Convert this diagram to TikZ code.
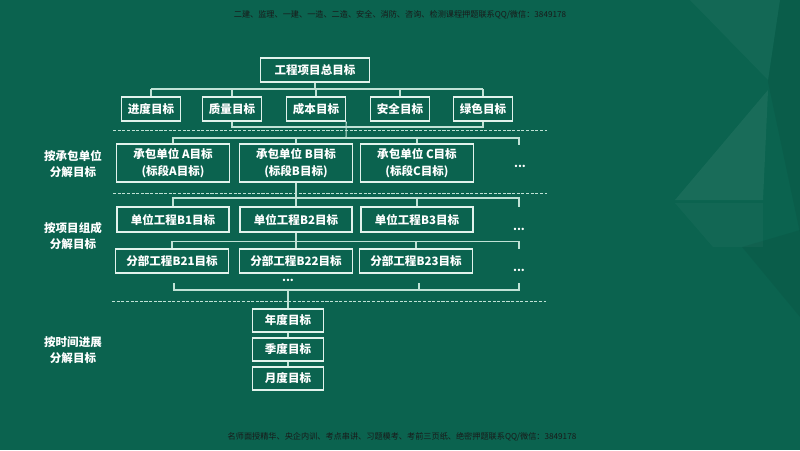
\documentclass[tikz,border=0pt]{standalone}
\usepackage{fontspec}
\setmainfont{Noto Sans CJK SC}
\usetikzlibrary{positioning,calc}
\definecolor{bgGreen}{RGB}{11,99,79}
\definecolor{boxLine}{RGB}{225,243,236}
\definecolor{linkLine}{RGB}{192,226,214}
\tikzset{
	%estils de les caixes i de les linies
	goal/.style = {rectangle, draw=boxLine, line width=0.9pt, text=white,
                           font=\fontsize{8.2}{11.8}\selectfont\bfseries,
                           inner sep=0pt, minimum height=0.6cm,
                           align=center, text centered},
	side/.style = {text=white, font=\fontsize{8.2}{11.4}\selectfont\bfseries,
                           align=center},
	dots/.style = {text=white, font=\fontsize{8}{9}\selectfont\bfseries, inner sep=0pt},
	note/.style = {text=black!90, font=\fontsize{5.8}{7}\selectfont},
	link/.style = {draw=linkLine, line width=0.75pt},
	sep/.style  = {draw=linkLine, line width=0.7pt, dash pattern=on 2.2pt off 1.1pt}
}
\begin{document}
\begin{tikzpicture}[x=0.025cm, y=-0.025cm]
		% fons
		\fill[bgGreen] (0,0) rectangle (800,450);
		\fill[white, opacity=0.035] (690,0) -- (780,0) -- (768,80) -- cycle;
		\fill[white, opacity=0.06] (768,90) -- (675,200) -- (763,200) -- cycle;
		\fill[white, opacity=0.03] (675,203) -- (763,203) -- (763,247) -- (713,247) -- cycle;
		\fill[black, opacity=0.06] (780,0) -- (800,0) -- (800,233) -- (768,82) -- cycle;
		\fill[black, opacity=0.05] (742,247) -- (800,230) -- (800,317) -- cycle;
		\useasboundingbox (0,0) rectangle (800,450);

		\node (hdr) [note] at (400,15) {二建、监理、一建、一造、二造、安全、消防、咨询、检测课程押题联系QQ/微信：3849178};
		\node (ftr) [note] at (402,437) {名师面授精华、央企内训、考点串讲、习题模考、考前三页纸、绝密押题联系QQ/微信：3849178};

		% nivell 1 i 2
		\node (top) [goal, minimum width=2.72cm] at (315,70)  {工程项目总目标};
		\node (jd)  [goal, minimum width=1.48cm] at (151,109) {进度目标};
		\node (zl)  [goal, minimum width=1.48cm] at (232,109) {质量目标};
		\node (cb)  [goal, minimum width=1.48cm] at (316,109) {成本目标};
		\node (aq)  [goal, minimum width=1.48cm] at (400,109) {安全目标};
		\node (ls)  [goal, minimum width=1.48cm] at (483,109) {绿色目标};

		% per unitat contractista
		\node (conA) [goal, minimum width=2.82cm, minimum height=0.95cm] at (173,163) {承包单位 A目标\\(标段A目标)};
		\node (conB) [goal, minimum width=2.82cm, minimum height=0.95cm] at (296,163) {承包单位 B目标\\(标段B目标)};
		\node (conC) [goal, minimum width=2.82cm, minimum height=0.95cm] at (417,163) {承包单位 C目标\\(标段C目标)};
		\node (conD) [dots] at (520,166) {...};

		% per composicio del projecte
		\node (dwB1) [goal, minimum width=2.8cm, minimum height=0.62cm] at (173,219.5) {单位工程B1目标};
		\node (dwB2) [goal, minimum width=2.8cm, minimum height=0.62cm] at (296,219.5) {单位工程B2目标};
		\node (dwB3) [goal, minimum width=2.8cm, minimum height=0.62cm] at (417,219.5) {单位工程B3目标};
		\node (dwD)  [dots] at (519,229) {...};
		\node (fbB21) [goal, minimum width=2.82cm] at (172,261) {分部工程B21目标};
		\node (fbB22) [goal, minimum width=2.84cm] at (296,261) {分部工程B22目标};
		\node (fbB23) [goal, minimum width=2.84cm] at (416,261) {分部工程B23目标};
		\node (fbD)  [dots] at (519,270) {...};
		\node (fbE)  [dots] at (288,280) {...};

		% per temps
		\node (nian) [goal, minimum width=1.77cm, minimum height=0.58cm] at (288,320.5) {年度目标};
		\node (ji)   [goal, minimum width=1.77cm, minimum height=0.58cm] at (288,349.5) {季度目标};
		\node (yue)  [goal, minimum width=1.77cm, minimum height=0.58cm] at (288,378.5) {月度目标};

		% etiquetes laterals
		\node (lblA) [side] at (73,164) {按承包单位\\分解目标};
		\node (lblB) [side] at (73,236) {按项目组成\\分解目标};
		\node (lblC) [side] at (73,350) {按时间进展\\分解目标};

		% separadors
		\coordinate (s1l) at (113,130);   \coordinate (s1r) at (547,130);
		\coordinate (s2l) at (113,193.5); \coordinate (s2r) at (547,193.5);
		\coordinate (s3l) at (112,301.5); \coordinate (s3r) at (546,301.5);
		\draw[sep] (s1l) -- (s1r);
		\draw[sep] (s2l) -- (s2r);
		\draw[sep] (s3l) -- (s3r);

		% connexions
		\coordinate (bus1) at (315,89);
		\draw[link] (top) -- (bus1);
		\draw[link] (bus1 -| jd) -- (bus1 -| ls);
		\foreach \n in {jd,zl,cb,aq,ls} \draw[link] (bus1 -| \n) -- (\n.north);

		\coordinate (bus2) at (346,127);
		\draw[link] (zl.south) |- (bus2) -| (ls.south);

		\coordinate (bus3) at (346,138);
		\coordinate (endA) at (519,145);
		\draw[link] (cb.south east) -- (bus3);
		\draw[link] (conA.north) |- (bus3) -| (endA);
		\draw[link] (bus3 -| conB) -- (conB.north);
		\draw[link] (bus3 -| conC) -- (conC.north);

		\coordinate (bus4) at (296,198);
		\coordinate (endB) at (519,207);
		\draw[link] (conB.south) -- (dwB2.north);
		\draw[link] (dwB1.north) |- (bus4) -| (endB);
		\draw[link] (bus4 -| dwB3) -- (dwB3.north);

		\coordinate (bus5) at (296,241.5);
		\coordinate (endC) at (519,249);
		\draw[link] (dwB2.south) -- (fbB22.north);
		\draw[link] (fbB21.north) |- (bus5) -| (endC);
		\draw[link] (bus5 -| fbB23) -- (fbB23.north);

		\coordinate (t1) at (174,283); \coordinate (b1) at (174,290);
		\coordinate (t2) at (419,283);
		\coordinate (t3) at (519,283); \coordinate (b3) at (519,290);
		\draw[link] (t1) -- (b1) -- (b3) -- (t3);
		\draw[link] (t2) -- (t2 |- b1);
		\draw[link] (nian.north |- b1) -- (nian.north);
		\draw[link] (nian) -- (ji);
		\draw[link] (ji) -- (yue);
\end{tikzpicture}
\end{document}
